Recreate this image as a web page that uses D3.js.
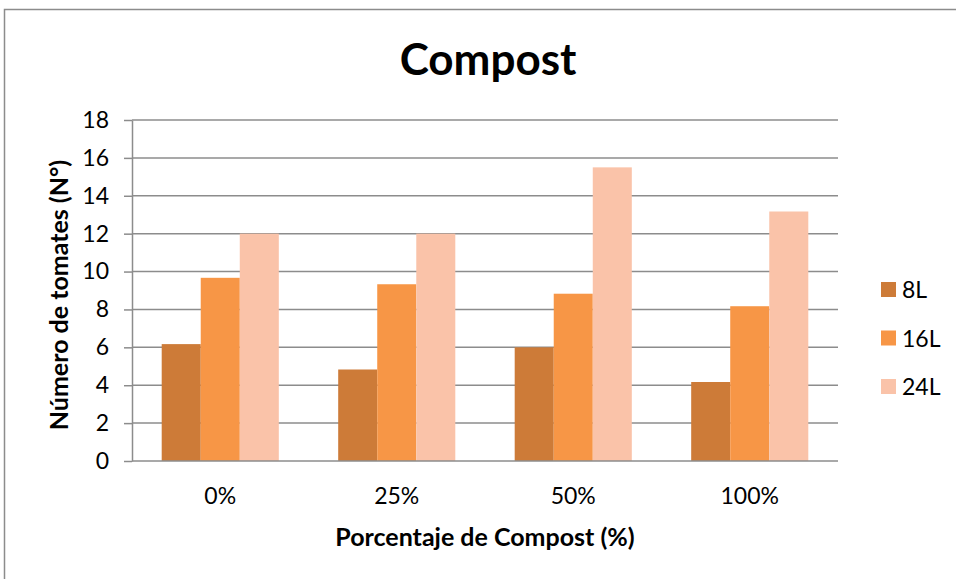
<!DOCTYPE html>
<html>
<head>
<meta charset="utf-8">
<script src="https://cdn.jsdelivr.net/npm/d3@7"></script>
<style>
  html, body { margin: 0; padding: 0; background: #fff; }
  svg { display: block; font-family: Lato, "Open Sans", sans-serif; }
</style>
</head>
<body>
<svg id="chart" width="956" height="579"></svg>
<script>
// Número de tomates por porcentaje de compost y volumen de maceta
const categories = ["0%", "25%", "50%", "100%"];
const seriesNames = ["8L", "16L", "24L"];
const values8L = [6.17, 4.83, 6.0, 4.17];
const values16L = [9.67, 9.33, 8.83, 8.17];
const values24L = [12.0, 12.0, 15.5, 13.17];
const yTicks = [0, 2, 4, 6, 8, 10, 12, 14, 16, 18];
const colors = ["#CD7B38", "#F79646", "#FAC3A9"];

const series = [values8L, values16L, values24L];

const svg = d3.select("#chart");
const plot = { left: 132, right: 838, top: 120, bottom: 461 };

// Marco del gráfico
svg.append("path")
  .attr("d", `M4.5,580 V9.5 H960`)
  .attr("fill", "none")
  .attr("stroke", "#8c8c8c")
  .attr("stroke-width", 1.5);

const x0 = d3.scaleBand()
  .domain(categories)
  .range([plot.left, plot.right])
  .paddingInner(0.3365)
  .paddingOuter(0.1683);

const x1 = d3.scaleBand()
  .domain(seriesNames)
  .range([0, x0.bandwidth()])
  .padding(0);

const y = d3.scaleLinear()
  .domain([0, 18])
  .range([plot.bottom, plot.top]);

// Líneas de cuadrícula
svg.append("g")
  .selectAll("line")
  .data(yTicks.filter(d => d > 0))
  .join("line")
  .attr("x1", plot.left)
  .attr("x2", plot.right)
  .attr("y1", d => y(d))
  .attr("y2", d => y(d))
  .attr("stroke", "#8c8c8c")
  .attr("stroke-width", 1.5);

// Barras
const groups = svg.append("g")
  .selectAll("g")
  .data(categories)
  .join("g")
  .attr("transform", d => `translate(${x0(d)},0)`);

groups.selectAll("rect")
  .data((c, i) => seriesNames.map((s, j) => ({ s, v: series[j][i], j })))
  .join("rect")
  .attr("x", d => x1(d.s))
  .attr("width", x1.bandwidth())
  .attr("y", d => y(d.v))
  .attr("height", d => y(0) - y(d.v))
  .attr("fill", d => colors[d.j]);

// Eje Y
const yAxis = svg.append("g")
  .attr("transform", `translate(${plot.left},0)`)
  .call(d3.axisLeft(y).tickValues(yTicks).tickSize(8).tickPadding(15).tickSizeOuter(0));
yAxis.select(".domain").attr("stroke", "#8c8c8c").attr("stroke-width", 1.5);
yAxis.selectAll(".tick line").attr("stroke", "#8c8c8c").attr("stroke-width", 1.5);
yAxis.selectAll(".tick text")
  .attr("font-family", "Lato, sans-serif")
  .attr("font-size", 23)
  .attr("fill", "#000");

// Eje X
const xAxis = svg.append("g")
  .attr("transform", `translate(0,${plot.bottom})`)
  .call(d3.axisBottom(x0).tickSize(0).tickPadding(27).tickSizeOuter(0));
xAxis.select(".domain")
  .attr("d", `M${plot.left},0H${plot.right}`)
  .attr("stroke", "#8c8c8c").attr("stroke-width", 1.5);
xAxis.selectAll(".tick text")
  .attr("font-family", "Lato, sans-serif")
  .attr("font-size", 23)
  .attr("fill", "#000");

// Título
svg.append("text")
  .attr("x", 488)
  .attr("y", 75)
  .attr("text-anchor", "middle")
  .attr("font-weight", "bold")
  .attr("font-size", 44)
  .text("Compost");

// Títulos de ejes
svg.append("text")
  .attr("x", 485)
  .attr("y", 546)
  .attr("text-anchor", "middle")
  .attr("font-weight", "bold")
  .attr("font-size", 25)
  .text("Porcentaje de Compost (%)");

svg.append("text")
  .attr("transform", "translate(68,295) rotate(-90)")
  .attr("text-anchor", "middle")
  .attr("font-weight", "bold")
  .attr("font-size", 25)
  .text("Número de tomates (N°)");

// Leyenda
const legend = svg.append("g")
  .selectAll("g")
  .data(seriesNames)
  .join("g")
  .attr("transform", (d, i) => `translate(881,${282 + i * 48.5})`);
legend.append("rect")
  .attr("width", 15)
  .attr("height", 15)
  .attr("fill", (d, i) => colors[i]);
legend.append("text")
  .attr("x", 21)
  .attr("y", 16)
  .attr("font-size", 23)
  .text(d => d);
</script>
</body>
</html>
